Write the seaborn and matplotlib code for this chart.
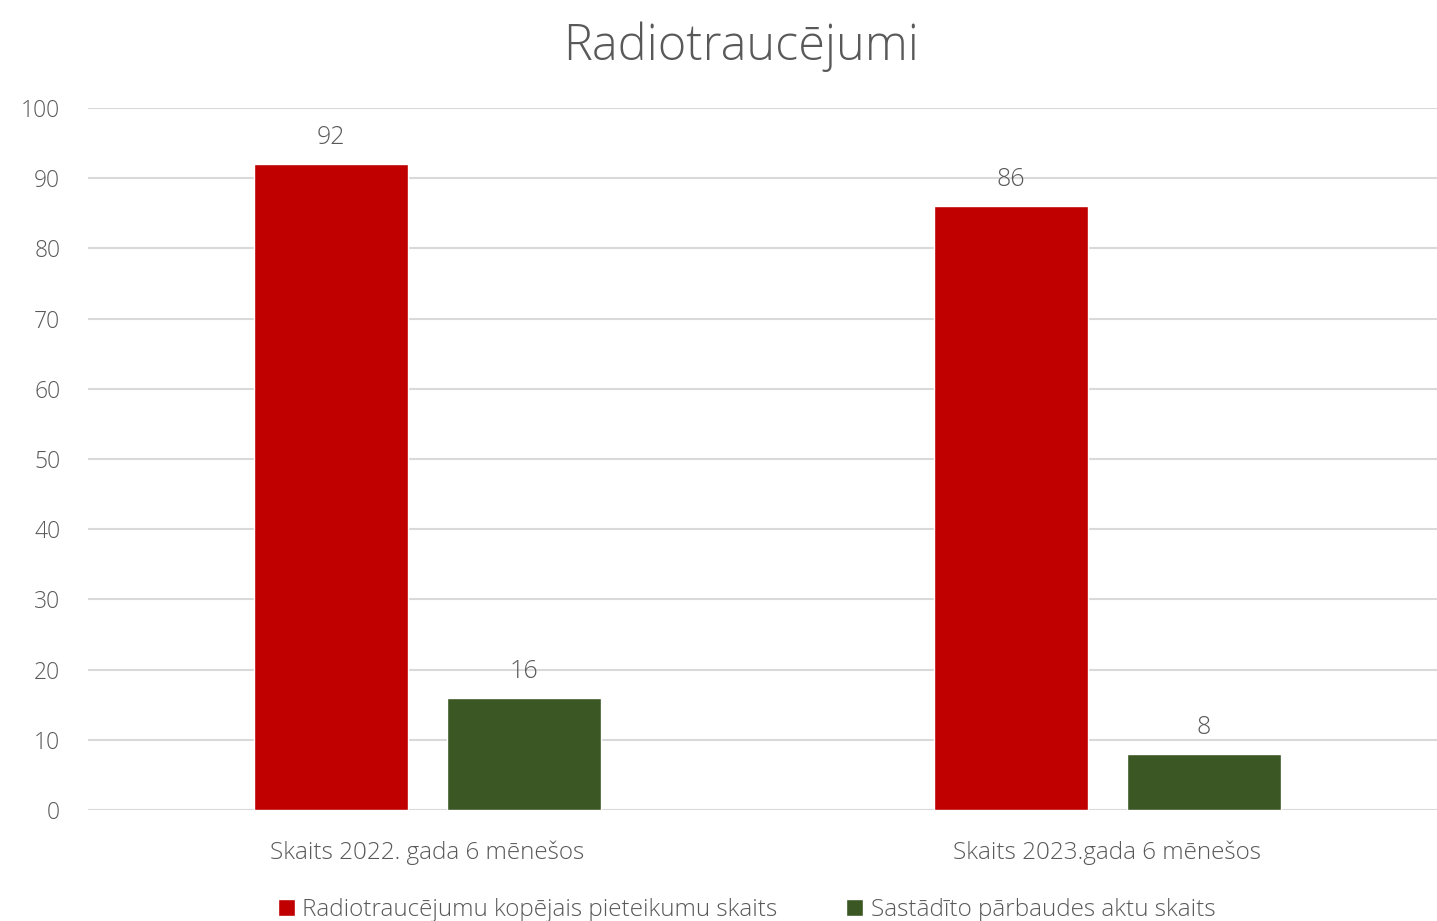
import matplotlib
matplotlib.use("Agg")
import matplotlib.pyplot as plt
import seaborn as sns
import pandas as pd

categories = ["Skaits 2022. gada 6 mēnešos", "Skaits 2023.gada 6 mēnešos"]
series_names = ["Radiotraucējumu kopējais pieteikumu skaits", "Sastādīto pārbaudes aktu skaits"]
total_reports = [92, 86]
inspection_acts = [16, 8]
yticks = [0, 10, 20, 30, 40, 50, 60, 70, 80, 90, 100]

df = pd.DataFrame({
    "cat": categories * 2,
    "series": [series_names[0]] * 2 + [series_names[1]] * 2,
    "value": total_reports + inspection_acts,
})

sns.set_theme(style="white")
plt.rcParams['font.family'] = ['Open Sans', 'DejaVu Sans']
txt = "#595959"

fig = plt.figure(figsize=(14.37, 9.21), dpi=100)
ax = fig.add_axes([0.0612, 0.1205, 0.9388, 0.7622])

sns.barplot(data=df, x="cat", y="value", hue="series",
            palette=["#C00000", "#3A5724"], width=0.5676, gap=0.202,
            saturation=1, ax=ax, legend=True)

ax.set_ylim(0, 100)
ax.set_xlim(-0.499, 1.485)
ax.set_yticks(yticks)
ax.yaxis.grid(True, color="#D9D9D9", linewidth=1.5)
ax.set_axisbelow(True)
for s in ax.spines.values():
    s.set_visible(False)
ax.tick_params(axis="both", length=0, colors=txt)
ax.tick_params(axis="y", pad=20, labelsize=16.5)
ax.tick_params(axis="x", pad=22, labelsize=17.5)
for lab in ax.get_xticklabels() + ax.get_yticklabels():
    lab.set_fontweight("light")
ax.set_xlabel("")
ax.set_ylabel("")

for cont in ax.containers:
    ax.bar_label(cont, fmt="%d", padding=10, fontsize=18, color=txt, fontweight="light")

fig.text(0.5155, 0.949, "Radiotraucējumi", ha="center", va="center",
         fontsize=35, color=txt, fontweight="light")

h, l = ax.get_legend_handles_labels()
ax.legend_.remove()
fig.legend(h, l, loc="center", bbox_to_anchor=(0.5195, 0.012), ncol=2, frameon=False,
           labelcolor=txt, handlelength=0.7, handleheight=0.7,
           handletextpad=0.3, columnspacing=2.85, prop={"weight": "light", "size": 17.5})

fig.savefig("out.png", dpi=100)
